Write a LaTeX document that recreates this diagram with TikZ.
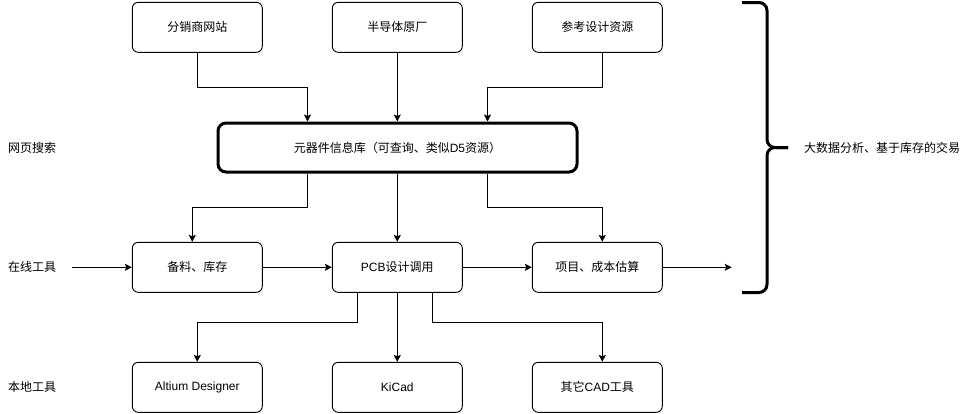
\documentclass[tikz,border=0pt]{standalone}
\usepackage{fontspec}
\setmainfont{Noto Sans CJK SC}
\newfontfamily\lat{Liberation Sans}
\usetikzlibrary{arrows.meta}
\begin{document}
\begin{tikzpicture}[x=1pt,y=-1pt,
  txt/.style={font=\fontsize{12}{14}\selectfont, inner sep=0pt},
  box/.style={txt, draw, rounded corners=6pt, minimum width=130pt, minimum height=50pt, line width=0.9pt},
  dbbox/.style={txt, draw, rounded corners=8pt, minimum width=359pt, minimum height=49pt, line width=3pt},
  arr/.style={line width=0.9pt, -{Stealth[length=7pt,width=7pt,inset=1.5pt]}},
  brace/.style={line width=3pt, rounded corners=8pt}]
\useasboundingbox (0,0) rectangle (974,413);
% top row
\node[box] (a) at (197.3,27.3) {分销商网站};
\node[box] (b) at (397.3,27.3) {半导体原厂};
\node[box] (c) at (597.3,27.3) {参考设计资源};
% database
\node[dbbox] (db) at (397.5,147.5) {元器件信息库（可查询、类似{\lat D5}资源）};
% middle row
\node[box] (m1) at (197.3,267.3) {备料、库存};
\node[box] (m2) at (397.3,267.3) {{\lat PCB}设计调用};
\node[box] (m3) at (597.3,267.3) {项目、成本估算};
% bottom row
\node[box] (t1) at (197.3,387.3) {\lat Altium Designer};
\node[box] (t2) at (397.3,387.3) {\lat KiCad};
\node[box] (t3) at (597.3,387.3) {其它{\lat CAD}工具};
% left labels
\node[txt, anchor=west] (l1) at (8,147.5) {网页搜索};
\node[txt, anchor=west] (l2) at (8,267.3) {在线工具};
\node[txt, anchor=west] (l3) at (8,387.3) {本地工具};
% right label
\node[txt, anchor=west] (r1) at (804,147.5) {大数据分析、基于库存的交易};
\coordinate (in) at (72,267.3);
\coordinate (out) at (731.7,267.3);
% arrows into database
\draw[arr] (a.south) -- ++(0,35) -| ([xshift=-90pt]db.north);
\draw[arr] (b.south) -- (db.north -| b.south);
\draw[arr] ([xshift=5pt]c.south) -- ++(0,35) -| ([xshift=90pt]db.north);
% arrows out of database
\draw[arr] ([xshift=-90pt]db.south) -- ++(0,33.5) -| ([xshift=-5pt]m1.north);
\draw[arr] (db.south -| m2.north) -- (m2.north);
\draw[arr] ([xshift=90pt]db.south) -- ++(0,33.5) -| ([xshift=5pt]m3.north);
% horizontal flow
\draw[arr] (in) -- (m1.west);
\draw[arr] (m1.east) -- (m2.west);
\draw[arr] (m2.east) -- (m3.west);
\draw[arr] (m3.east) -- (out);
% tools
\draw[arr] ([xshift=-39.6pt]m2.south) -- ++(0,30) -| (t1.north);
\draw[arr] (m2.south) -- (t2.north);
\draw[arr] ([xshift=35pt]m2.south) -- ++(0,30) -| ([xshift=5pt]t3.north);
% brace
\draw[brace] (742,2.5) -- (767,2.5) -- (767,147.5) -- (788,147.5);
\draw[brace] (742,292.5) -- (767,292.5) -- (767,147.5) -- (788,147.5);
\end{tikzpicture}
\end{document}
